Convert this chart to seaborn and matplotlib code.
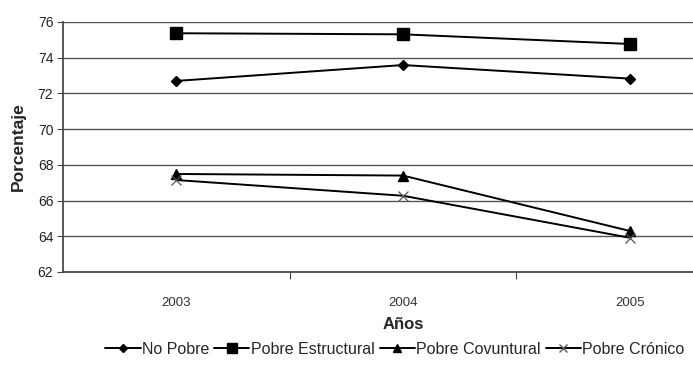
import matplotlib
matplotlib.use("Agg")
import matplotlib.pyplot as plt
import seaborn as sns
import pandas as pd

years = ["2003", "2004", "2005"]
no_pobre = [72.70, 73.59, 72.83]
pobre_estructural = [75.37, 75.31, 74.77]
pobre_covuntural = [67.49, 67.40, 64.30]
pobre_cronico = [67.15, 66.27, 63.92]
series_names = ["No Pobre", "Pobre Estructural", "Pobre Covuntural", "Pobre Crónico"]
y_ticks = [62, 64, 66, 68, 70, 72, 74, 76]

sns.set_theme(style="white")
plt.rcParams["font.family"] = ["Liberation Sans", "DejaVu Sans"]

fig = plt.figure(figsize=(6.93, 3.69), dpi=100)
ax = fig.add_axes([63 / 693, 97 / 369, 680 / 693, 250 / 369])

markers = {"No Pobre": "D", "Pobre Estructural": "s", "Pobre Covuntural": "^", "Pobre Crónico": "x"}
sizes = {"No Pobre": 5, "Pobre Estructural": 8, "Pobre Covuntural": 7, "Pobre Crónico": 7}
values = [no_pobre, pobre_estructural, pobre_covuntural, pobre_cronico]

for name, vals in zip(series_names, values):
    df = pd.DataFrame({"pos": range(len(years)), "Porcentaje": vals})
    cross = name == "Pobre Crónico"
    sns.lineplot(data=df, x="pos", y="Porcentaje", ax=ax, color="black",
                 linewidth=1.4, marker=markers[name], markersize=sizes[name],
                 markeredgecolor="#555555" if cross else "black",
                 markeredgewidth=0.9 if cross else 1.0, zorder=3)

ax.set_xlim(-0.5, 2.5)
ax.set_ylim(62, 76)
ax.set_yticks(y_ticks)
ax.set_yticklabels([str(t) for t in y_ticks], fontsize=10, color="#222222")
ax.set_xticks(range(len(years)))
ax.set_xticklabels(years, fontsize=9.5, color="#333333")
ax.set_xticks([0.5, 1.5], minor=True)
ax.tick_params(axis="x", which="major", length=0, pad=18)
ax.tick_params(axis="x", which="minor", direction="out", length=5, width=0.8,
               color="#444444", bottom=True)
ax.tick_params(axis="y", direction="out", length=4, width=0.8, color="#444444",
               left=True, pad=3)

ax.yaxis.grid(True, color="#555555", linewidth=1.0)
ax.set_axisbelow(True)
for s in ["top", "right"]:
    ax.spines[s].set_visible(False)
ax.spines["left"].set_color("#444444")
ax.spines["bottom"].set_color("#444444")

ax.set_xlabel("Años", fontsize=12, fontweight="bold")
ax.xaxis.set_label_coords((403 - 63) / 680, -0.18)
ax.set_ylabel("Porcentaje", fontsize=12.5, fontweight="bold")
ax.yaxis.set_label_coords(-0.055, 0.5)

handles = []
for name in series_names:
    cross = name == "Pobre Crónico"
    h, = ax.plot([], [], color="black", linewidth=1.4, marker=markers[name],
                 markersize=sizes[name] * 0.85,
                 markeredgecolor="#555555" if cross else "black")
    handles.append(h)
fig.legend(handles, series_names, loc="center", bbox_to_anchor=(395 / 693, 1 - 349 / 369),
           ncol=4, frameon=False, fontsize=11.5, handlelength=2.2, handletextpad=0.1,
           columnspacing=0.3)

fig.savefig("out.png", dpi=100)
